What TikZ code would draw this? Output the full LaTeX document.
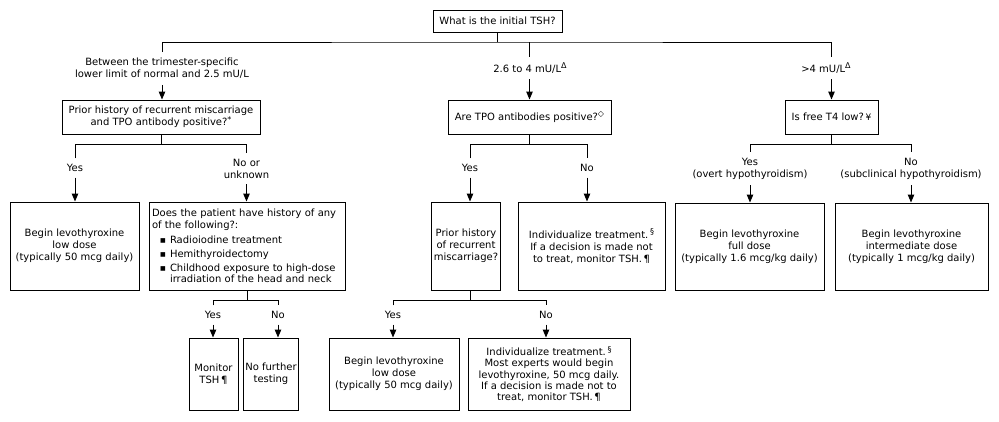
\documentclass[tikz,border=0pt]{standalone}
\usepackage{fontspec}
\setmainfont{DejaVu Sans}
\usetikzlibrary{arrows.meta}
% footnote marks
\newcommand{\fnote}[1]{\raisebox{3.4pt}{\fontsize{8}{8}\selectfont #1}}
% bullet list lines inside a box
\newcommand{\itm}{\hspace*{8pt}\makebox[10pt][l]{\raisebox{1pt}{\fontsize{6}{6}\selectfont ■}}}
\newcommand{\itmcont}{\hspace*{18pt}}
\begin{document}
\begin{tikzpicture}[x=1pt,y=-1pt,
  every node/.style={font=\fontsize{10}{12}\selectfont},
  box/.style={draw, line width=1pt, align=center, inner sep=2pt},
  lbl/.style={align=center, inner sep=1pt, outer sep=5pt},
  link/.style={line width=1pt},
  arr/.style={line width=1pt, -{Triangle[length=8pt,width=6.5pt]}}
]
\useasboundingbox (0,0) rectangle (999,421);

% ---------- top question ----------
\node[box, minimum width=129pt, minimum height=22pt] (top) at (497.5,21) {What is the initial TSH?};

% ---------- first level: TSH ranges ----------
\node[lbl] (l1) at (162,68.5) {Between the trimester-specific\\lower limit of normal and 2.5 mU/L};
\node[lbl] (l2) at (530,68) {2.6 to 4 mU/L\fnote{Δ}};
\node[lbl] (l3) at (826,68) {>4 mU/L\fnote{Δ}};

\node[box, minimum width=198pt, minimum height=34pt] (q1) at (161,117)
  {Prior history of recurrent miscarriage\\and TPO antibody positive?\fnote{*}};
\node[box, minimum width=163pt, minimum height=34pt] (q2) at (529.5,117)
  {Are TPO antibodies positive?\fnote{◇}};
\node[box, minimum width=93pt, minimum height=34pt] (q3) at (831.5,117)
  {Is free T4 low?\,\raisebox{0.5pt}{\fontsize{9}{9}\selectfont ¥}};

\coordinate (h0) at (497.5,42);
\draw[link] (top.south) -- (h0);
\draw[link] (l1.north) |- (h0) -| (l3.north -| q3.north);
\draw[link] (h0 -| q2.north) -- (l2.north -| q2.north);
\draw[arr] (l1.south) -- (l1.south |- q1.north);
\draw[arr] (l2.south -| q2.north) -- (q2.north);
\draw[arr] (l3.south -| q3.north) -- (q3.north);

% ---------- second level ----------
\node[lbl] (y1) at (75,168) {Yes};
\node[lbl] (n1) at (246.5,168.5) {No or\\unknown};
\node[lbl] (y2) at (470,168) {Yes};
\node[lbl] (n2) at (587,168) {No};
\node[lbl] (y3) at (750,168.5) {Yes\\(overt hypothyroidism)};
\node[lbl] (n3) at (911,168.5) {No\\(subclinical hypothyroidism)};

\node[box, minimum width=129pt, minimum height=88pt] (a1) at (74.5,246)
  {Begin levothyroxine\\low dose\\(typically 50 mcg daily)};
\node[box, align=left, text width=190pt, minimum width=196pt, minimum height=88pt] (q4) at (247,246)
  {Does the patient have history of any\\of the following?:\\[3pt]
   \itm Radioiodine treatment\\[2pt]
   \itm Hemithyroidectomy\\[2pt]
   \itm Childhood exposure to high-dose\\[-1pt]
   \itmcont irradiation of the head and neck};
\node[box, minimum width=66pt, minimum height=88pt] (q5) at (466,246)
  {Prior history\\of recurrent\\miscarriage?};
\node[box, minimum width=147pt, minimum height=88pt] (a2) at (591.5,246)
  {Individualize treatment.\,\fnote{§}\\If a decision is made not\\to treat, monitor TSH.\,¶};
\node[box, minimum width=149pt, minimum height=87pt] (a3) at (749.5,246.5)
  {Begin levothyroxine\\full dose\\(typically 1.6 mcg/kg daily)};
\node[box, minimum width=153pt, minimum height=87pt] (a4) at (911.5,246.5)
  {Begin levothyroxine\\intermediate dose\\(typically 1 mcg/kg daily)};

\draw[link] (q1.south) -- ++(0,10) coordinate (j1);
\draw[link] (y1.north) |- (j1) -| (n1.north);
\draw[link] (q2.south) -- ++(0,10) coordinate (j2);
\draw[link] (y2.north) |- (j2) -| (n2.north);
\draw[link] (q3.south) -- ++(0,10) coordinate (j3);
\draw[link] (y3.north) |- (j3) -| (n3.north);

\draw[arr] (y1.south) -- (y1.south |- a1.north);
\draw[arr] (n1.south) -- (n1.south |- q4.north);
\draw[arr] (y2.south) -- (y2.south |- q5.north);
\draw[arr] (n2.south) -- (n2.south |- a2.north);
\draw[arr] (y3.south) -- (y3.south |- a3.north);
\draw[arr] (n3.south) -- (n3.south |- a4.north);

% ---------- third level ----------
\node[lbl] (y4) at (213,315) {Yes};
\node[lbl] (n4) at (278,315) {No};
\node[lbl] (y5) at (393,315) {Yes};
\node[lbl] (n5) at (546,315) {No};

\node[box, minimum width=49pt, minimum height=72pt] (a5) at (213.5,374) {Monitor\\TSH\,¶};
\node[box, minimum width=48pt, minimum height=72pt] (a6) at (271,374) {No further\\testing};
\node[box, minimum width=130pt, minimum height=72pt] (a7) at (394,374)
  {Begin levothyroxine\\low dose\\(typically 50 mcg daily)};
\node[box, minimum width=162pt, minimum height=72pt,
      font=\fontsize{10}{11.3}\selectfont] (a8) at (549,374)
  {Individualize treatment.\,\fnote{§}\\Most experts would begin\\levothyroxine, 50 mcg daily.\\If a decision is made not to\\treat, monitor TSH.\,¶};

\draw[link] (q4.south) -- ++(0,10) coordinate (j4);
\draw[link] (y4.north) |- (j4) -| (n4.north);
\draw[link] (q5.south -| y2) -- ++(0,10) coordinate (j5);
\draw[link] (y5.north) |- (j5) -| (n5.north);

\draw[arr] (y4.south) -- (y4.south |- a5.north);
\draw[arr] (n4.south) -- (n4.south |- a6.north);
\draw[arr] (y5.south) -- (y5.south |- a7.north);
\draw[arr] (n5.south) -- (n5.south |- a8.north);
\end{tikzpicture}
\end{document}
